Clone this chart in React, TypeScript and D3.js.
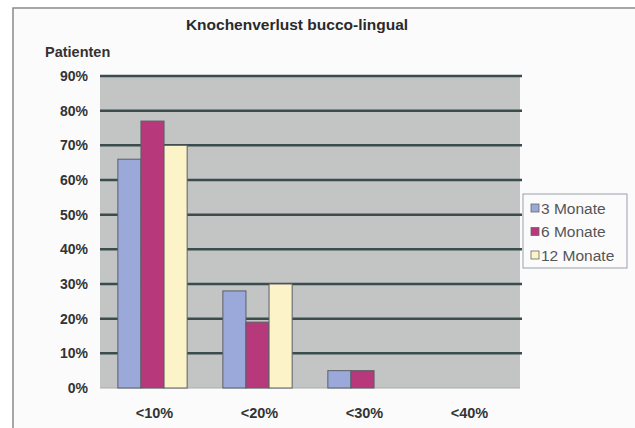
import React from "react";
import * as d3 from "d3";

const categories = ["<10%", "<20%", "<30%", "<40%"];
const seriesNames = ["3 Monate", "6 Monate", "12 Monate"];
const values3 = [66, 28, 5, 0];
const values6 = [77, 19, 5, 0];
const values12 = [70, 30, 0, 0];
const yTicks = [0, 10, 20, 30, 40, 50, 60, 70, 80, 90];
const colors = ["#9ba8da", "#b8387c", "#fcf3c9"];

const W = 635;
const H = 428;
const plot = { left: 100, right: 520, top: 76, bottom: 388 };

export default function App() {
  const series = [values3, values6, values12];
  const x = d3
    .scaleBand<string>()
    .domain(categories)
    .range([plot.left, plot.right])
    .paddingInner(0.34)
    .paddingOuter(0.17);
  const xs = d3
    .scaleBand<string>()
    .domain(seriesNames)
    .range([0, x.bandwidth()]);
  const y = d3.scaleLinear().domain([0, 90]).range([plot.bottom, plot.top]);
  const font = "Liberation Sans, Arial, sans-serif";

  return (
    <div style={{ position: "absolute", left: 0, top: 0 }}>
      <svg width={W} height={H} style={{ display: "block" }}>
        <rect x={0} y={0} width={W} height={H} fill="#ffffff" />
        <rect x={13} y={8} width={W} height={H} fill="#fbfbfc" stroke="#8a8a8a" strokeWidth={1.5} />
        <text x={297} y={30} textAnchor="middle" fontFamily={font} fontWeight="bold" fontSize={15.5} fill="#2a2a2a">
          Knochenverlust bucco-lingual
        </text>
        <text x={45} y={57} fontFamily={font} fontWeight="bold" fontSize={14.5} fill="#333">
          Patienten
        </text>
        <rect
          x={plot.left}
          y={plot.top}
          width={plot.right - plot.left}
          height={plot.bottom - plot.top}
          fill="#c2c5c3"
        />
        {yTicks.map((t) => (
          <g key={t}>
            {t > 0 && (
              <line x1={plot.left} x2={plot.right + 2} y1={y(t)} y2={y(t)} stroke="#3b4c4d" strokeWidth={2.5} />
            )}
            <text
              x={88}
              y={y(t)}
              dy="0.35em"
              textAnchor="end"
              fontFamily={font}
              fontWeight="bold"
              fontSize={14}
              fill="#333"
            >
              {t}%
            </text>
          </g>
        ))}
        <line x1={plot.left} x2={plot.right} y1={plot.bottom} y2={plot.bottom} stroke="#a9adab" strokeWidth={1} />
        {categories.map((c, ci) => (
          <g key={c}>
            {series.map((vals, si) =>
              vals[ci] > 0 ? (
                <rect
                  key={si}
                  x={(x(c) as number) + (xs(seriesNames[si]) as number)}
                  y={y(vals[ci])}
                  width={xs.bandwidth()}
                  height={y(0) - y(vals[ci])}
                  fill={colors[si]}
                  stroke="#5a5f66"
                  strokeWidth={1}
                />
              ) : null
            )}
            <text
              x={(x(c) as number) + x.bandwidth() / 2 + 2}
              y={418}
              textAnchor="middle"
              fontFamily={font}
              fontWeight="bold"
              fontSize={14.5}
              fill="#333"
            >
              {c}
            </text>
          </g>
        ))}
        <rect x={523} y={194} width={104} height={74} fill="#fbfbfc" stroke="#9a9fa8" strokeWidth={1} />
        {seriesNames.map((s, i) => (
          <g key={s}>
            <rect x={531} y={204 + i * 23.5} width={8} height={8} fill={colors[i]} stroke="#666" strokeWidth={0.8} />
            <text x={541} y={208 + i * 23.5} dy="0.36em" fontFamily={font} fontSize={15.5} fill="#555">
              {s}
            </text>
          </g>
        ))}
      </svg>
    </div>
  );
}
